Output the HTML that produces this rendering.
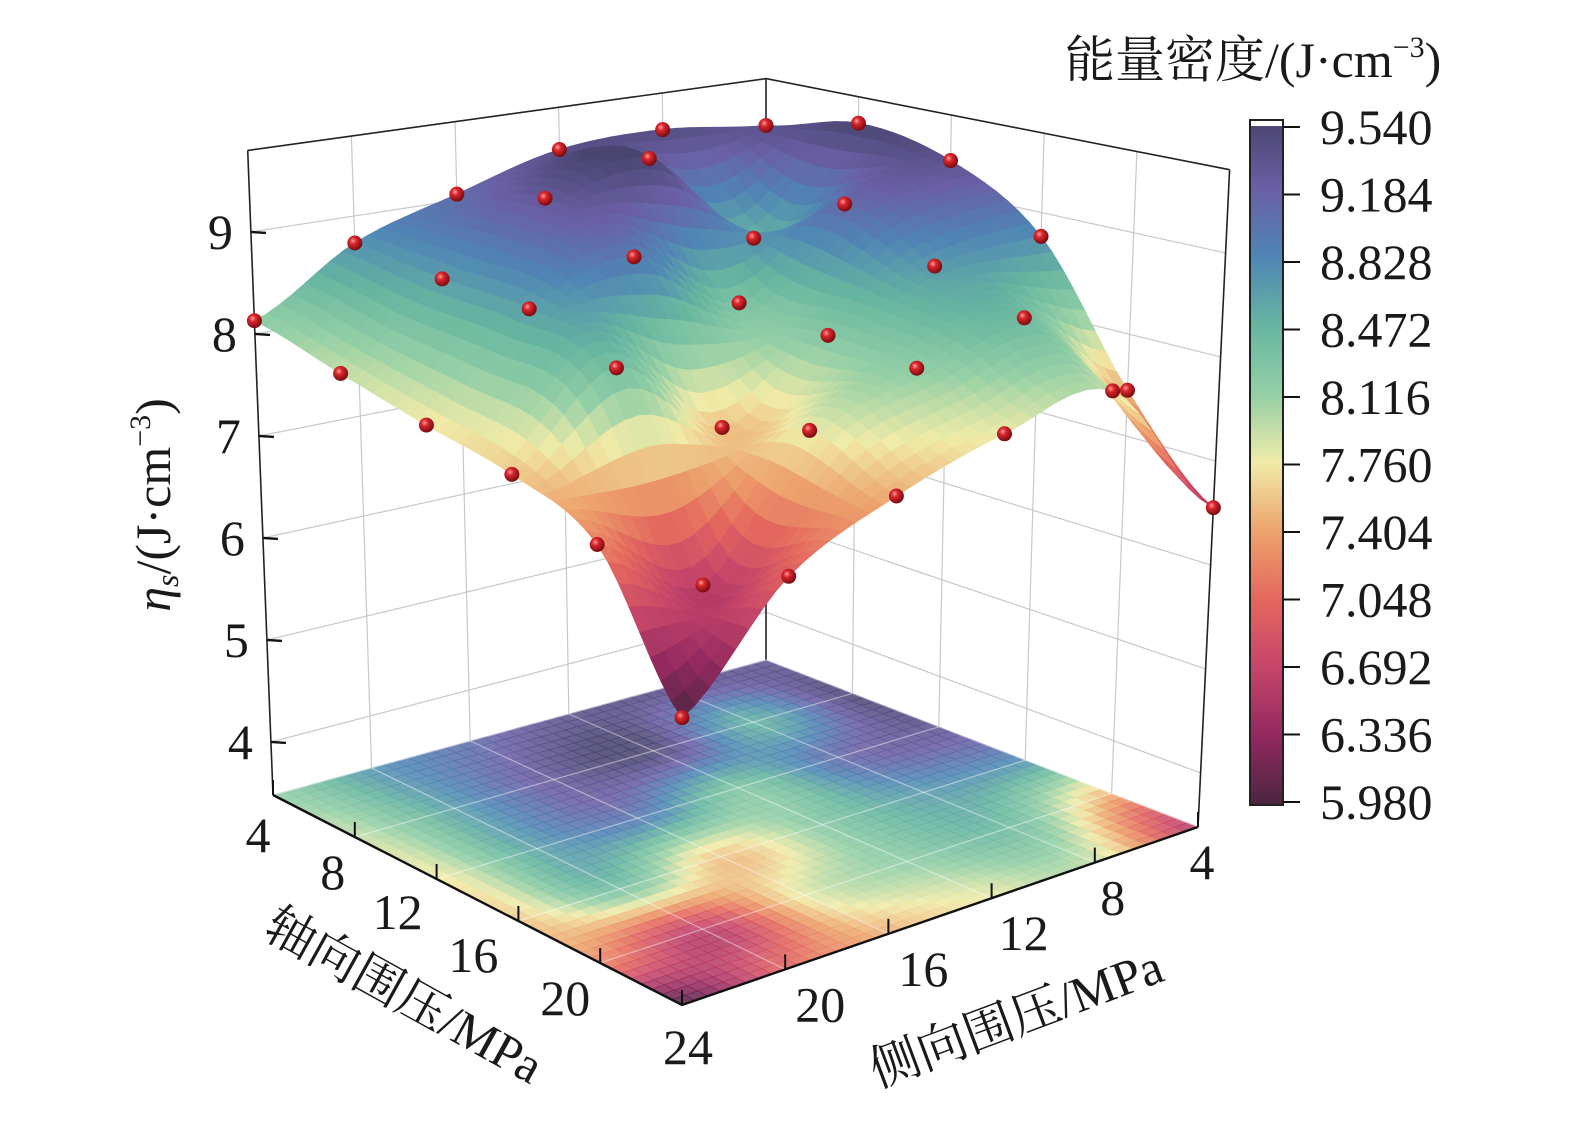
<!DOCTYPE html>
<html><head><meta charset="utf-8">
<style>
html,body{margin:0;padding:0;background:#fff;}
svg{display:block;}
text{font-family:"Liberation Serif","Noto Serif CJK SC",serif;fill:#1a1a1a;}
</style></head>
<body>
<svg id="chart" width="1575" height="1122" viewBox="0 0 1575 1122" xmlns="http://www.w3.org/2000/svg" font-family="Liberation Serif, Noto Serif CJK SC, serif">
<defs>
<radialGradient id="ball" cx="0.38" cy="0.35" r="0.65">
<stop offset="0" stop-color="#ff9a9a"/><stop offset="0.35" stop-color="#d8262c"/><stop offset="1" stop-color="#7a0b10"/>
</radialGradient>
<linearGradient id="cbar" x1="0" y1="1" x2="0" y2="0">
<stop offset="0" stop-color="#4a2540"/><stop offset="0.1" stop-color="#92295f"/><stop offset="0.2" stop-color="#c6456a"/><stop offset="0.3" stop-color="#e4675e"/><stop offset="0.4" stop-color="#eda36c"/><stop offset="0.5" stop-color="#f0eba8"/><stop offset="0.6" stop-color="#93cfa6"/><stop offset="0.7" stop-color="#66b5a0"/><stop offset="0.8" stop-color="#4f86b5"/><stop offset="0.9" stop-color="#6a5fa5"/><stop offset="1" stop-color="#4a4570"/>
</linearGradient>
</defs>
<g id="walls"></g>
<g id="floor"></g>
<g id="surface"></g>
<g id="points"></g>
<g id="axes"></g>

<text transform="translate(170,505) rotate(-90)" text-anchor="middle" font-size="50"><tspan font-style="italic">η</tspan><tspan font-style="italic" font-size="32" dy="8">s</tspan><tspan dy="-8">/(J·cm</tspan><tspan font-size="30" dy="-20">−3</tspan><tspan dy="20">)</tspan></text>
<text transform="translate(396,1010) rotate(29)" text-anchor="middle" font-size="50">轴向围压/MPa</text>
<text transform="translate(1022,1034) rotate(-20.5)" text-anchor="middle" font-size="50">侧向围压/MPa</text>

<g>
<text x="1065" y="77" font-size="50">能量密度/(J·cm<tspan font-size="30" dy="-20">−3</tspan><tspan dy="20">)</tspan></text>
<rect x="1250" y="120" width="33" height="685" fill="url(#cbar)" stroke="#222" stroke-width="2"/>
<rect x="1251" y="121" width="31" height="5" fill="#fff"/>
<g id="cbticks"></g>
</g>
</svg>
<script>
// ---- data (6x6 grid: rows = axial confining pressure, cols = lateral confining pressure) ----
const axialVals = [4, 8, 12, 16, 20, 24];
const lateralVals = [4, 8, 12, 16, 20, 24];
const row4  = [9.29, 9.41, 9.36, 9.06, 8.73, 8.13];
const row8  = [9.52, 8.50, 9.50, 9.27, 8.65, 7.92];
const row12 = [9.33, 9.08, 8.29, 8.94, 8.63, 7.73];
const row16 = [8.76, 8.68, 8.22, 7.56, 8.34, 7.57];
const row20 = [7.45, 8.40, 8.15, 7.80, 6.62, 7.23];
const row24 = [6.55, 7.93, 7.78, 7.46, 6.99, 6.00];
const zTicks = [4, 5, 6, 7, 8, 9];
const axialTicks = [4, 8, 12, 16, 20, 24];
const lateralTicks = [4, 8, 12, 16, 20];
const cbTicks = ["5.980","6.336","6.692","7.048","7.404","7.760","8.116","8.472","8.828","9.184","9.540"];
const grid = [row4, row8, row12, row16, row20, row24];

const NS = "http://www.w3.org/2000/svg";
const zFloor = 3.48, zTop = 9.8, cMin = 5.98, cMax = 9.54;
const C = {b:[766,660,92,0], l:[273,795,102,-4], r:[1198,827,104,5], f:[682,1005,114,0]};
function proj(a, l, z){
  const s = (a-4)/20, t = (l-4)/20;
  const w = [(1-s)*(1-t),(1-s)*t,s*(1-t),s*t];
  const K = [C.b,C.l,C.r,C.f];
  let x=0,y=0,k=0,dx=0;
  for(let i=0;i<4;i++){x+=w[i]*K[i][0];y+=w[i]*K[i][1];k+=w[i]*K[i][2];dx+=w[i]*K[i][3];}
  const h = z - zFloor;
  return [x + dx*h, y - k*h];
}
const stops = [[0,[74,37,64]],[0.1,[146,41,95]],[0.2,[198,69,106]],[0.3,[228,103,94]],[0.4,[237,163,108]],[0.5,[240,235,168]],[0.6,[147,207,166]],[0.7,[102,181,160]],[0.8,[79,134,181]],[0.9,[106,95,165]],[1,[74,69,112]]];
function cmap(v){
  let u = Math.max(0,Math.min(1,(v-cMin)/(cMax-cMin)));
  for(let i=1;i<stops.length;i++){
    if(u<=stops[i][0]){
      const f=(u-stops[i-1][0])/(stops[i][0]-stops[i-1][0]);
      const c=stops[i-1][1].map((q,j)=>Math.round(q+(stops[i][1][j]-q)*f));
      return `rgb(${c[0]},${c[1]},${c[2]})`;
    }
  }
  return "rgb(74,69,112)";
}
function cr(p0,p1,p2,p3,t){return 0.5*((2*p1)+(-p0+p2)*t+(2*p0-5*p1+4*p2-p3)*t*t+(-p0+3*p1-3*p2+p3)*t*t*t);}
function g(i,j){i=Math.max(0,Math.min(5,i));j=Math.max(0,Math.min(5,j));return grid[i][j];}
function interp(u,v){
  const i=Math.min(4,Math.floor(u)), j=Math.min(4,Math.floor(v));
  const fu=u-i, fv=v-j;
  const r=[];
  for(let m=-1;m<=2;m++) r.push(cr(g(i+m,j-1),g(i+m,j),g(i+m,j+1),g(i+m,j+2),fv));
  return cr(r[0],r[1],r[2],r[3],fu);
}
function mk(tag, attrs, parent){const e=document.createElementNS(NS,tag);for(const k in attrs)e.setAttribute(k,attrs[k]);parent.appendChild(e);return e;}
function pts(arr){return arr.map(p=>p[0].toFixed(1)+","+p[1].toFixed(1)).join(" ");}

const walls=document.getElementById("walls"), floorG=document.getElementById("floor"), surf=document.getElementById("surface"), ptsG=document.getElementById("points"), axes=document.getElementById("axes");

zTicks.forEach(z=>{
  let ln=mk("polyline",{points:pts([proj(4,24,z),proj(4,4,z),proj(24,4,z)]),fill:"none",stroke:"#c8c8c8","stroke-width":1.2},walls);
  
  
});
[8,12,16,20].forEach(v=>{
  let a=mk("line",{},walls);
  const p1=proj(4,v,zFloor),p2=proj(4,v,zTop);
  a.setAttribute("x1",p1[0]);a.setAttribute("y1",p1[1]);a.setAttribute("x2",p2[0]);a.setAttribute("y2",p2[1]);
  a.setAttribute("stroke","#c8c8c8");a.setAttribute("stroke-width","1.2");
  
  
  let b=mk("line",{},walls);
  const q1=proj(v,4,zFloor),q2=proj(v,4,zTop);
  b.setAttribute("x1",q1[0]);b.setAttribute("y1",q1[1]);b.setAttribute("x2",q2[0]);b.setAttribute("y2",q2[1]);
  b.setAttribute("stroke","#c8c8c8");b.setAttribute("stroke-width","1.2");
  
  
});
[[proj(4,24,zTop),proj(4,4,zTop),proj(24,4,zTop)],[proj(4,4,zFloor),proj(4,4,zTop)],[proj(4,24,zFloor),proj(4,24,zTop)],[proj(24,4,zFloor),proj(24,4,zTop)]].forEach(p=>{
  let e=mk("polyline",{points:pts(p),fill:"none",stroke:"#222","stroke-width":1.6},walls);
  
  
});

const M=8, N=5*M;
const Z=[];
for(let i=0;i<=N;i++){Z.push([]);for(let j=0;j<=N;j++)Z[i].push(interp(i/M,j/M));}
function av(i){return 4+20*i/N;}
for(let i=0;i<N;i++)for(let j=0;j<N;j++){
  const zc=(Z[i][j]+Z[i+1][j]+Z[i][j+1]+Z[i+1][j+1])/4;
  const col=cmap(zc);
  mk("polygon",{points:pts([proj(av(i),av(j),zFloor),proj(av(i+1),av(j),zFloor),proj(av(i+1),av(j+1),zFloor),proj(av(i),av(j+1),zFloor)]),fill:col,stroke:col,"stroke-width":0.8,"fill-opacity":0.88,"stroke-opacity":0.88},floorG);
}
axialTicks.forEach(v=>{
  let e=mk("line",{},floorG);const p1=proj(v,4,zFloor),p2=proj(v,24,zFloor);
  e.setAttribute("x1",p1[0]);e.setAttribute("y1",p1[1]);e.setAttribute("x2",p2[0]);e.setAttribute("y2",p2[1]);
  e.setAttribute("stroke","#ffffff");e.setAttribute("stroke-opacity","0.5");e.setAttribute("stroke-width","1.2");
  
  
  let f=mk("line",{},floorG);const q1=proj(4,v,zFloor),q2=proj(24,v,zFloor);
  f.setAttribute("x1",q1[0]);f.setAttribute("y1",q1[1]);f.setAttribute("x2",q2[0]);f.setAttribute("y2",q2[1]);
  f.setAttribute("stroke","#ffffff");f.setAttribute("stroke-opacity","0.5");f.setAttribute("stroke-width","1.2");
  
  
});
const quads=[];
for(let i=0;i<N;i++)for(let j=0;j<N;j++)quads.push([i,j]);
quads.sort((p,q)=>(p[0]+p[1])-(q[0]+q[1]));
quads.forEach(([i,j])=>{
  const zc=(Z[i][j]+Z[i+1][j]+Z[i][j+1]+Z[i+1][j+1])/4;
  const col=cmap(zc);
  mk("polygon",{points:pts([proj(av(i),av(j),Z[i][j]),proj(av(i+1),av(j),Z[i+1][j]),proj(av(i+1),av(j+1),Z[i+1][j+1]),proj(av(i),av(j+1),Z[i][j+1])]),fill:col,stroke:col,"stroke-width":0.9},surf);
});
axialVals.forEach((a,i)=>lateralVals.forEach((l,j)=>{
  const p=proj(a,l,grid[i][j]);
  const c=mk("circle",{cx:p[0],cy:p[1],r:7.5,fill:"url(#ball)"},ptsG);
  
  
}));

let fe=mk("polyline",{points:pts([proj(4,24,zFloor),proj(24,24,zFloor),proj(24,4,zFloor)]),fill:"none",stroke:"#111","stroke-width":2.4},axes);


zTicks.forEach(z=>{
  const p=proj(4,24,z);
  let t=mk("line",{x1:p[0],y1:p[1],x2:p[0]+15,y2:p[1]+1,stroke:"#111","stroke-width":2.4},axes);
  
  
  let tx=mk("text",{x:p[0]-18,y:p[1]+17,"text-anchor":"end","font-size":50},axes);
  tx.textContent=z;
  
  
});
const axLabDx=[-15,-22,-39,-45,-35,6];
const axLabDy=[57,52,50,51,52,59];
axialTicks.forEach((v,i)=>{
  const p=proj(v,24,zFloor);
  let t=mk("line",{x1:p[0],y1:p[1],x2:p[0],y2:p[1]-15,stroke:"#111","stroke-width":2},axes);
  
  
  let tx=mk("text",{x:p[0]+axLabDx[i],y:p[1]+axLabDy[i],"text-anchor":"middle","font-size":50},axes);
  tx.textContent=v;
  
  
});
lateralTicks.forEach(v=>{
  const p=proj(24,v,zFloor);
  let t=mk("line",{x1:p[0],y1:p[1],x2:p[0],y2:p[1]-15,stroke:"#111","stroke-width":2},axes);
  
  
  let tx=mk("text",{x:p[0]+Math.min(35,4+(v-4)*3.5),y:p[1]+52,"text-anchor":"middle","font-size":50},axes);
  tx.textContent=v;
  
  
});
const cbG=document.getElementById("cbticks");
cbTicks.forEach((lab,i)=>{
  const y=802-i*67.5;
  let t=mk("line",{x1:1283,y1:y,x2:1300,y2:y,stroke:"#111","stroke-width":2},cbG);
  
  
  let tx=mk("text",{x:1320,y:y+17,"font-size":50},cbG);
  tx.textContent=lab;
  
  
});
</script>
</body></html>
